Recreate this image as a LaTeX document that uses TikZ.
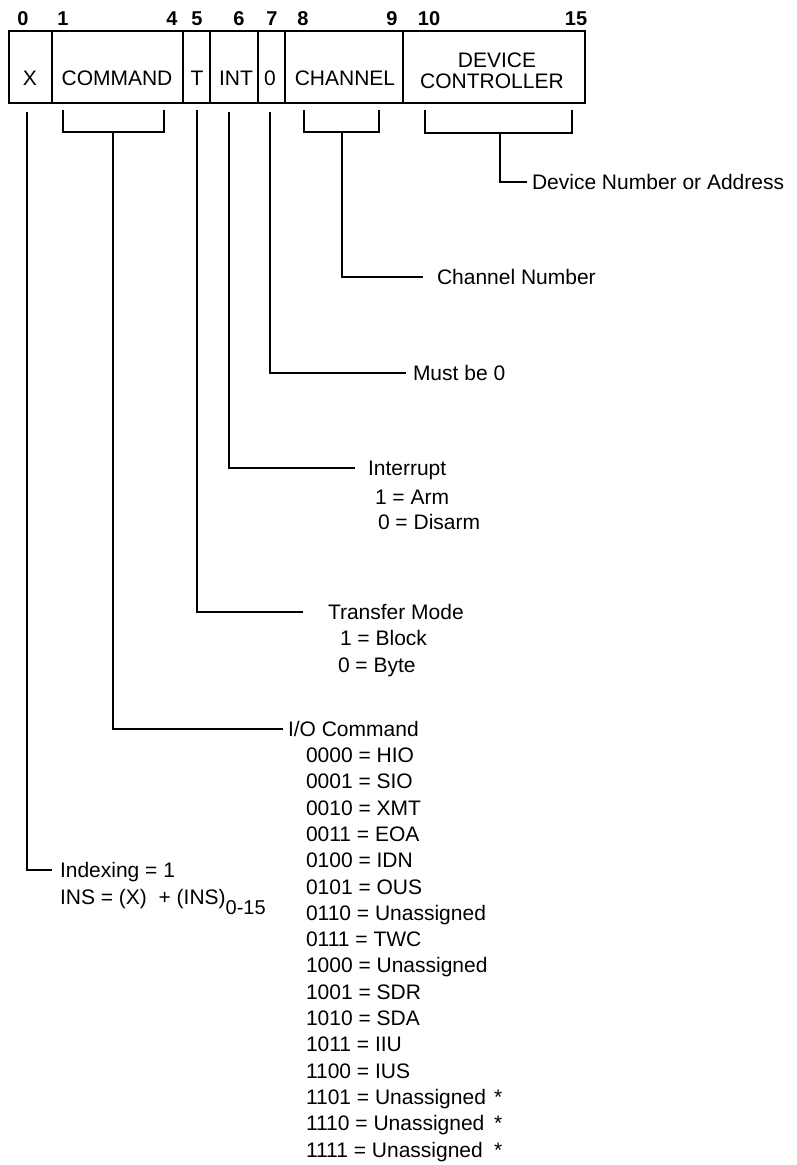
\documentclass[tikz,border=0pt]{standalone}
\usepackage{fontspec}
\setmainfont{Liberation Sans}
\usetikzlibrary{calc}
\begin{document}
\begin{tikzpicture}[x=1pt,y=-1pt,
  every node/.style={inner sep=0pt, outer sep=0pt},
  cell/.style={draw, line width=2.2pt, minimum height=72pt, anchor=north west},
  bitno/.style={font=\fontsize{20}{20}\selectfont\bfseries},
  celltxt/.style={font=\fontsize{21}{21}\selectfont},
  lbl/.style={font=\fontsize{21}{21}\selectfont, anchor=west, text height=15pt, text depth=0pt},
  lead/.style={line width=2pt},
]
\path[fill=white] (0,0) rectangle (796,1165);
\useasboundingbox (0,0) rectangle (796,1165);

% bit numbers
\node[bitno] (b0) at (23,19) {0};
\node[bitno] (b1) at (63,19) {1};
\node[bitno] (b4) at (172,19) {4};
\node[bitno] (b5) at (197,19) {5};
\node[bitno] (b6) at (239,19) {6};
\node[bitno] (b7) at (272,19) {7};
\node[bitno] (b8) at (303,19) {8};
\node[bitno] (b9) at (392,19) {9};
\node[bitno] (b10) at (429,19) {10};
\node[bitno] (b15) at (576,19) {15};

% cells
\node[cell, minimum width=43pt]  (cX)   at (9,31) {};
\node[cell, minimum width=131pt] (cCMD) at (52,31) {};
\node[cell, minimum width=27pt]  (cT)   at (183,31) {};
\node[cell, minimum width=48pt]  (cINT) at (210,31) {};
\node[cell, minimum width=27pt]  (cZ)   at (258,31) {};
\node[cell, minimum width=118pt] (cCH)  at (285,31) {};
\node[cell, minimum width=182pt] (cDEV) at (403,31) {};

% cell texts
\node[celltxt] (tX) at (30,78) {X};
\node[celltxt] (tCMD) at (117,78) {COMMAND};
\node[celltxt] (tT) at (197,78) {T};
\node[celltxt] (tINT) at (236,78) {INT};
\node[celltxt] (tZ) at (270,78) {0};
\node[celltxt] (tCH) at (345,78) {CHANNEL};
\node[celltxt] (tDEV1) at (497,60) {DEVICE};
\node[celltxt] (tDEV2) at (492,81) {CONTROLLER};

% brackets
\coordinate (cmdL) at (63,110);  \coordinate (cmdR) at (164,110); \coordinate (cmdS) at (113,132);
\coordinate (chL) at (304,110);  \coordinate (chR) at (379,110);  \coordinate (chS) at (342,132);
\coordinate (devL) at (425,110); \coordinate (devR) at (572,110); \coordinate (devS) at (500,133);
\draw[lead] (cmdL) |- (cmdR |- cmdS) -- (cmdR);
\draw[lead] (chL) |- (chR |- chS) -- (chR);
\draw[lead] (devL) |- (devR |- devS) -- (devR);

% single-bit leader starts
\coordinate (xS) at (27,112);
\coordinate (tS) at (197,110);
\coordinate (iS) at (229,112);
\coordinate (zS) at (270,112);

% labels
\node[lbl] (dev) at (532,182) {Device Number or Address};
\node[lbl] (chn) at (437,277) {Channel Number};
\node[lbl] (must) at (413,373) {Must be 0};
\node[lbl] (intr) at (368,468) {Interrupt};
\node[lbl] (arm) at (375,497) {1 = Arm};
\node[lbl] (disarm) at (378,522) {0 = Disarm};
\node[lbl] (trm) at (328,612) {Transfer Mode};
\node[lbl] (block) at (340,638) {1 = Block};
\node[lbl] (byte) at (338,665) {0 = Byte};
\node[lbl] (io) at (288,729) {I/O Command};
\foreach \t [count=\i from 0] in {0000 = HIO, 0001 = SIO, 0010 = XMT, 0011 = EOA,
  0100 = IDN, 0101 = OUS, 0110 = Unassigned, 0111 = TWC, 1000 = Unassigned,
  1001 = SDR, 1010 = SDA, 1011 = IIU, 1100 = IUS, 1101 = Unassigned,
  1110 = Unassigned, 1111 = Unassigned}
  {\node[lbl] (code\i) at (306,755+26.3*\i) {\t};}
\foreach \i in {13,14,15}
  {\node[lbl] (star\i) at (494,755+26.3*\i) {*};}
\node[lbl] (idx) at (60,870) {Indexing = 1};
\node[lbl] (ins) at (60,897) {INS = (X)\ \ + (INS)\raisebox{-10pt}{\fontsize{20}{20}\selectfont 0-15}};

% leaders
\draw[lead] (devS) |- ([xshift=-5pt]dev.west);
\draw[lead] (chS) |- ([xshift=-14pt]chn.west);
\draw[lead] (zS) |- ([xshift=-7pt]must.west);
\draw[lead] (iS) |- ([xshift=-13pt]intr.west);
\draw[lead] (tS) |- ([xshift=-25pt]trm.west);
\draw[lead] (cmdS) |- ([xshift=-5pt]io.west);
\draw[lead] (xS) |- ([xshift=-8pt]idx.west);
\end{tikzpicture}
\end{document}
